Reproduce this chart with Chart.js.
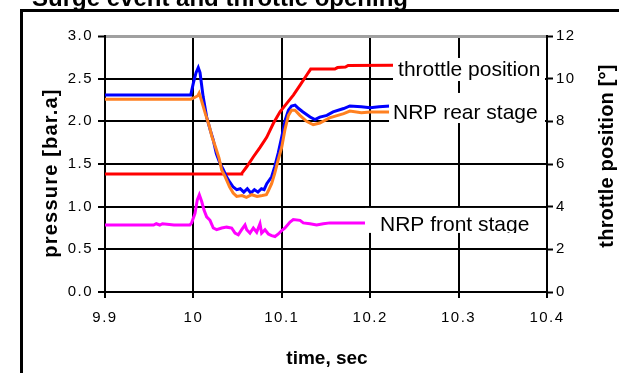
<!DOCTYPE html>
<html><head><meta charset="utf-8">
<script src="https://cdn.jsdelivr.net/npm/chart.js@4.4.1/dist/chart.umd.min.js"></script>
<style>html,body{margin:0;padding:0;background:#fff;}#wrap{position:relative;width:619px;height:373px;overflow:hidden}</style>
</head><body><div id="wrap"><canvas id="c" width="619" height="373"></canvas></div>
<script>
// ---- tick values ----
const xTicks = [9.9, 10, 10.1, 10.2, 10.3, 10.4];
const pressureTicks = [0, 0.5, 1, 1.5, 2, 2.5, 3];
const throttleTicks = [0, 2, 4, 6, 8, 10, 12];

// ---- series: throttle position [deg] (right axis) ----
const throttleTime = [9.900, 10.054, 10.0547, 10.0603, 10.0679, 10.0754, 10.0829, 10.0905, 10.098, 10.1056, 10.1131, 10.1207, 10.1282, 10.1327, 10.160, 10.163, 10.172, 10.175, 10.2258];
const throttleVal  = [5.53, 5.53, 5.56, 5.87, 6.34, 6.78, 7.25, 7.91, 8.45, 8.84, 9.23, 9.70, 10.17, 10.45, 10.45, 10.52, 10.55, 10.62, 10.63];

// ---- series: NRP rear stage (blue) ----
const rearBlueTime = [9.900, 9.950, 9.997, 10.000, 10.003, 10.0055, 10.0075, 10.009, 10.011, 10.015, 10.019, 10.0225, 10.026, 10.030, 10.034, 10.0375, 10.041, 10.045, 10.049, 10.053, 10.057, 10.061, 10.065, 10.069, 10.073, 10.077, 10.080, 10.083, 10.0885, 10.092, 10.096, 10.100, 10.104, 10.1075, 10.111, 10.115, 10.119, 10.124, 10.132, 10.1375, 10.143, 10.151, 10.158, 10.170, 10.177, 10.190, 10.200, 10.210, 10.2225];
const rearBlueVal  = [2.31, 2.31, 2.31, 2.45, 2.57, 2.63, 2.57, 2.45, 2.29, 2.05, 1.90, 1.78, 1.62, 1.51, 1.43, 1.35, 1.29, 1.23, 1.20, 1.21, 1.17, 1.21, 1.16, 1.20, 1.17, 1.21, 1.20, 1.27, 1.35, 1.47, 1.63, 1.82, 2.02, 2.13, 2.18, 2.19, 2.15, 2.11, 2.05, 2.02, 2.05, 2.07, 2.11, 2.15, 2.18, 2.17, 2.16, 2.17, 2.18];

// ---- series: NRP rear stage (orange) ----
const rearOrangeTime = [9.900, 9.997, 10.0015, 10.005, 10.0065, 10.009, 10.0135, 10.0175, 10.021, 10.025, 10.029, 10.032, 10.036, 10.041, 10.045, 10.049, 10.055, 10.060, 10.066, 10.072, 10.078, 10.0825, 10.0845, 10.0885, 10.092, 10.096, 10.100, 10.1035, 10.1075, 10.111, 10.115, 10.1205, 10.128, 10.1355, 10.143, 10.154, 10.170, 10.177, 10.190, 10.200, 10.2225];
const rearOrangeVal  = [2.26, 2.26, 2.28, 2.30, 2.33, 2.25, 2.09, 1.96, 1.82, 1.70, 1.57, 1.43, 1.35, 1.23, 1.16, 1.12, 1.13, 1.11, 1.14, 1.12, 1.13, 1.14, 1.18, 1.27, 1.39, 1.55, 1.70, 1.90, 2.07, 2.13, 2.13, 2.07, 2.00, 1.96, 1.98, 2.04, 2.09, 2.12, 2.10, 2.11, 2.11];

// ---- series: NRP front stage (magenta) ----
const frontTime = [9.900, 9.955, 9.958, 9.962, 9.965, 9.978, 9.996, 9.998, 10.0018, 10.0044, 10.0067, 10.0094, 10.0120, 10.0150, 10.0188, 10.0225, 10.0263, 10.0320, 10.0376, 10.0433, 10.0471, 10.0508, 10.0546, 10.0584, 10.0603, 10.0640, 10.0678, 10.0716, 10.0753, 10.0772, 10.0810, 10.0848, 10.0885, 10.0923, 10.0961, 10.0999, 10.1036, 10.1093, 10.1130, 10.1206, 10.1243, 10.1319, 10.1394, 10.1469, 10.1545, 10.1771, 10.2225];
const frontVal  = [0.785, 0.785, 0.80, 0.785, 0.80, 0.785, 0.785, 0.81, 0.92, 1.08, 1.14, 1.06, 0.96, 0.88, 0.84, 0.75, 0.73, 0.75, 0.76, 0.75, 0.69, 0.67, 0.73, 0.785, 0.73, 0.69, 0.75, 0.70, 0.80, 0.69, 0.73, 0.68, 0.66, 0.65, 0.68, 0.72, 0.75, 0.82, 0.85, 0.84, 0.81, 0.80, 0.785, 0.80, 0.81, 0.81, 0.81];

// ---- texts ----
const titleText = 'Surge event and throttle opening';
const xTitle = 'time, sec';
const yTitle = 'pressure [bar.a]';
const y1Title = 'throttle position [°]';
const labelTexts = ['throttle position', 'NRP rear stage', 'NRP front stage'];
// label boxes anchored in data units (time, throttle-axis units)
const labelBoxes = [
  {x0: 10.2258, tx: 10.2315, top: 10.97, bottom: 9.89, base: 10.11},
  {x0: 10.2213, tx: 10.2258, top: 9.33, bottom: 7.92, base: 8.13},
  {x0: 10.1941, tx: 10.2111, top: 3.94, bottom: 2.77, base: 2.87}
];

const FONT = "'Liberation Sans', Arial, sans-serif";
const zip = (t, v) => t.map((x, i) => ({x: x, y: v[i]}));
const setLS = (ctx, v) => { try { ctx.letterSpacing = v; } catch (e) {} };

const deco = {
  id: 'deco',
  beforeDraw(chart) {
    const ctx = chart.ctx;
    ctx.save();
    setLS(ctx, '0px');
    ctx.fillStyle = '#fff';
    ctx.fillRect(0, 0, chart.width, chart.height);
    ctx.strokeStyle = '#000';
    ctx.lineWidth = 3;
    ctx.strokeRect(21.5, 10.5, 1000, 1000);
    ctx.fillStyle = '#000';
    ctx.font = 'bold 24px ' + FONT;
    ctx.textAlign = 'left';
    ctx.textBaseline = 'alphabetic';
    ctx.fillText(titleText, 32, 5.5);
    ctx.restore();
    // tick labels in the reference are widely spaced
    setLS(ctx, '1.5px');
  },
  afterDatasetsDraw(chart) {
    const ctx = chart.ctx, xs = chart.scales.x, ys = chart.scales.y1, ca = chart.chartArea;
    ctx.save();
    setLS(ctx, '0px');
    labelBoxes.forEach((b, i) => {
      const l = xs.getPixelForValue(b.x0), r = ca.right - 2;
      const t = ys.getPixelForValue(b.top), bt = ys.getPixelForValue(b.bottom);
      ctx.fillStyle = '#fff';
      ctx.fillRect(l, t, r - l, bt - t);
      ctx.save();
      ctx.beginPath(); ctx.rect(l, t, r - l, bt - t); ctx.clip();
      ctx.fillStyle = '#000';
      ctx.font = '21px ' + FONT;
      ctx.textAlign = 'left';
      ctx.textBaseline = 'alphabetic';
      ctx.fillText(labelTexts[i], xs.getPixelForValue(b.tx), ys.getPixelForValue(b.base));
      ctx.restore();
    });
    ctx.restore();
  },
  afterDraw(chart) {
    const ctx = chart.ctx;
    ctx.save();
    setLS(ctx, '0px');
    ctx.fillStyle = '#000';
    ctx.textAlign = 'center';
    // x title
    ctx.font = 'bold 19px ' + FONT;
    ctx.textBaseline = 'alphabetic';
    ctx.fillText(xTitle, 327, 364);
    // left title
    ctx.save();
    ctx.translate(51, 173);
    ctx.rotate(-Math.PI / 2);
    ctx.font = 'bold 20px ' + FONT;
    setLS(ctx, '1.2px');
    ctx.textBaseline = 'middle';
    ctx.fillText(yTitle, 0, 0);
    ctx.restore();
    // right title
    ctx.save();
    ctx.translate(607, 156);
    ctx.rotate(-Math.PI / 2);
    ctx.font = 'bold 20px ' + FONT;
    setLS(ctx, '0.2px');
    ctx.textBaseline = 'middle';
    ctx.fillText(y1Title, 0, 0);
    ctx.restore();
    ctx.restore();
  }
};

const tickFont = {family: FONT, size: 15};
const fmtX = v => String(Number(v.toFixed(1)));

new Chart(document.getElementById('c'), {
  type: 'line',
  data: {
    datasets: [
      {label: 'NRP front stage', data: zip(frontTime, frontVal), borderColor: '#FF00FF', yAxisID: 'y', order: 0},
      {label: 'NRP rear stage (orange)', data: zip(rearOrangeTime, rearOrangeVal), borderColor: '#FF8020', yAxisID: 'y', order: 1},
      {label: 'NRP rear stage', data: zip(rearBlueTime, rearBlueVal), borderColor: '#0000FF', yAxisID: 'y', order: 2},
      {label: 'throttle position', data: zip(throttleTime, throttleVal), borderColor: '#FF0000', yAxisID: 'y1', order: 3}
    ]
  },
  options: {
    responsive: false,
    animation: false,
    devicePixelRatio: 1,
    parsing: false,
    elements: {point: {radius: 0}, line: {borderWidth: 3, tension: 0, fill: false}},
    layout: {padding: {left: 21, top: 36, right: 0, bottom: 0}},
    plugins: {legend: {display: false}, tooltip: {enabled: false}, title: {display: false}},
    scales: {
      x: {
        type: 'linear', position: 'bottom', min: 9.9, max: 10.4,
        afterBuildTicks: s => { s.ticks = xTicks.map(v => ({value: v})); },
        afterFit: s => { s.height = 81; },
        ticks: {callback: v => fmtX(v), font: tickFont, color: '#000', padding: 11, maxRotation: 0, autoSkip: false},
        grid: {color: '#000', lineWidth: 2, tickLength: 6, tickColor: '#000', tickWidth: 2},
        border: {color: '#000', width: 2}
      },
      y: {
        type: 'linear', position: 'left', min: 0, max: 3,
        afterBuildTicks: s => { s.ticks = pressureTicks.map(v => ({value: v})); },
        afterFit: s => { s.width = 84; },
        ticks: {callback: v => v.toFixed(1), font: tickFont, color: '#000', padding: 5},
        grid: {
          color: c => (c.tick && c.tick.value === 3) ? '#a0a0a0' : '#000',
          lineWidth: c => (c.tick && c.tick.value === 3) ? 3 : 2,
          tickLength: 7, tickColor: '#000', tickWidth: 2
        },
        border: {color: '#000', width: 2}
      },
      y1: {
        type: 'linear', position: 'right', min: 0, max: 12,
        afterBuildTicks: s => { s.ticks = throttleTicks.map(v => ({value: v})); },
        afterFit: s => { s.width = 72; },
        ticks: {callback: v => String(v), font: tickFont, color: '#000', padding: 3},
        grid: {drawOnChartArea: false, tickLength: 6, tickColor: '#000', tickWidth: 2},
        border: {color: '#000', width: 2}
      }
    }
  },
  plugins: [deco]
});
</script></body></html>
